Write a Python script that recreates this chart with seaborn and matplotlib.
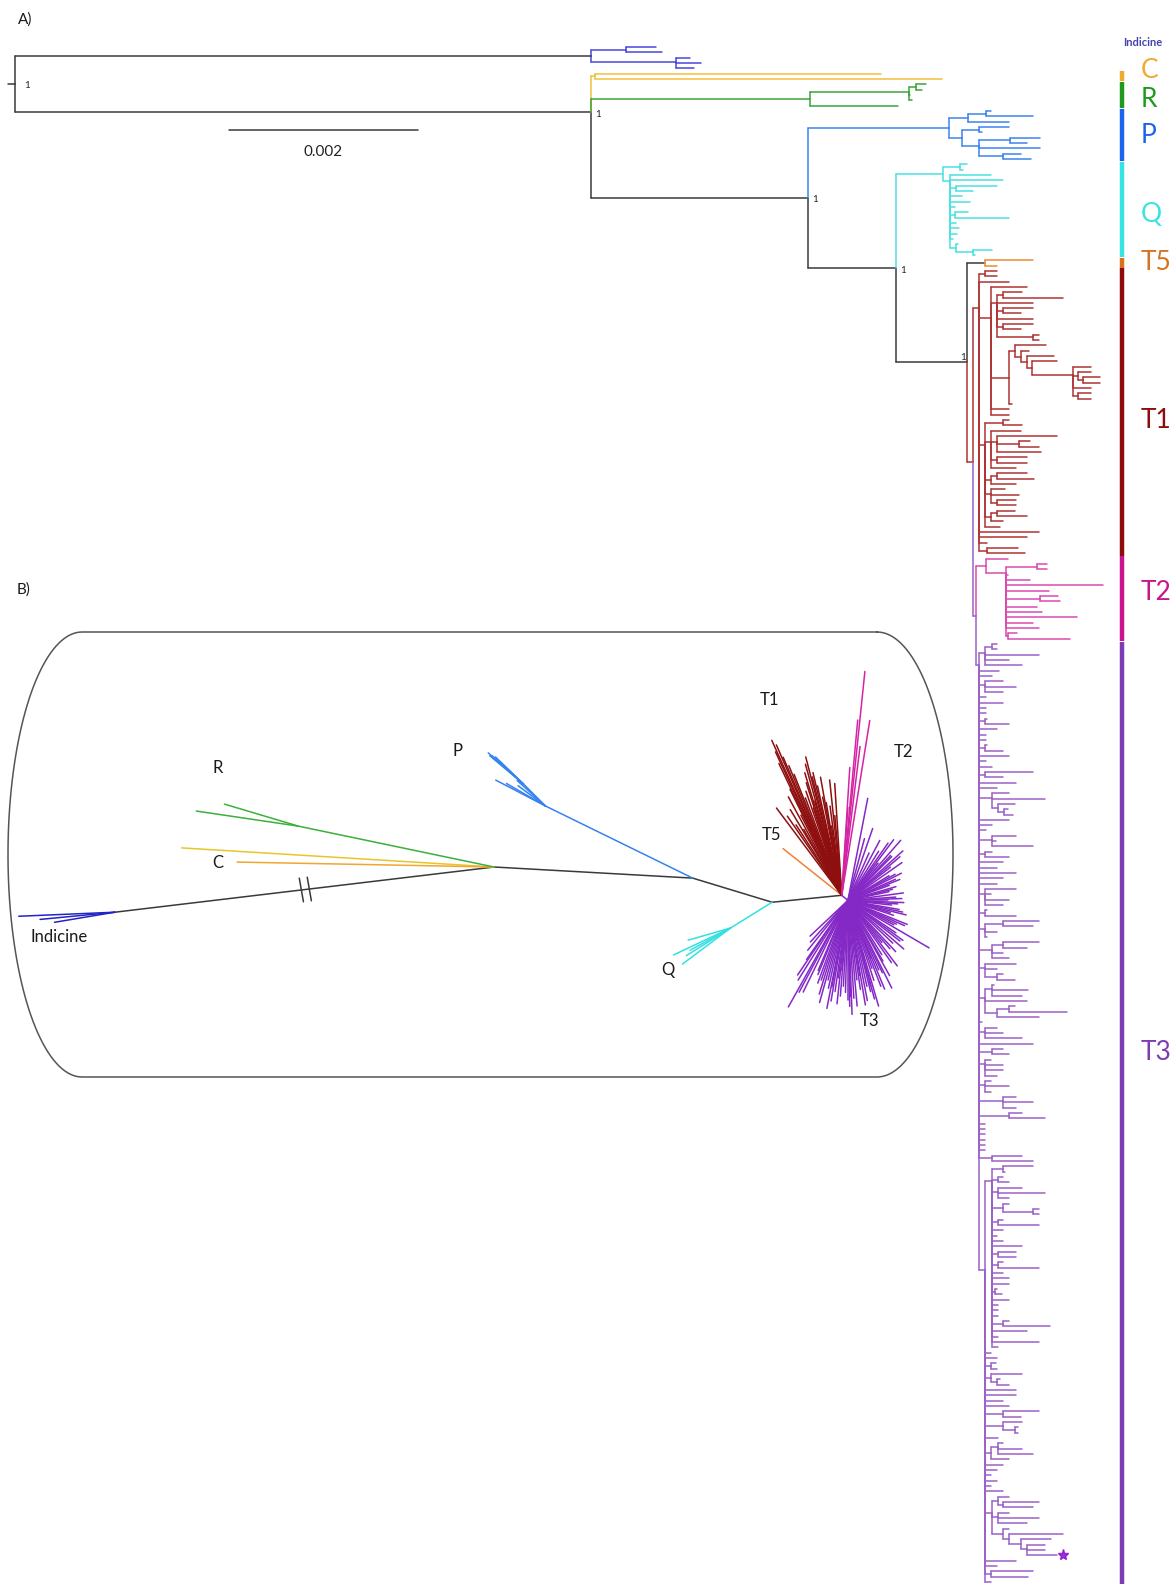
import numpy as np
import pandas as pd
import matplotlib
matplotlib.use("Agg")
import matplotlib.pyplot as plt
import seaborn as sns

# ====================== DATA : panel A (rectangular phylogram) ======================
# branch lengths in tree units (189 units = 0.002 substitutions / site)
SCALE_VALUE = "0.002"
SCALE_UNITS = 189

# node = [branch_length, child, child, ...]; leaf = branch length; ('*', bl) = marked leaf
IND = [576, [35, 30, 36], [85, 14, 25, 18]]
C = [4, 286, 347]
R = [219, [99, [7, 10, 6], 1, 3], 88]
P = [141, [19, [18, 5, 47], 41],
     [13, [17, 30, 3], [17, [31, 30, 17], 61, [24, 18, 28]]]]
Q = [47, [17, 7, 3],
     [7, 41, 53, [6, 41, 17], 12, 20, 5, [5, 13, 54], 6, 9, 7, 3, [6, 2, [17, 19, 2]]]]
T5 = [18, 48, 12]
T1 = [6, [6, 12, 12], 30,
      [12, 36,
       [6, [6, 19, 60], 36, [6, 30, 18], 36, [6, 30, 18], [36, 6, 6]],
       [18, [6, 31, [6, 8, [6, 27, [5, 25, [41, 18, [5, 13, [5, 17, 17]], 18, [5, 13, 13]]]]]], 3],
       18, 18],
      [6, [18, 6, 19], [6, 30, [6, 60, [22, 11, 20], 44], [6, 30, 30], 25],
       [6, [6, 30, 37], 25], [6, 14, 28, [6, 19, 19]], [6, [6, 18, 30], 12], 15],
      60, 48, 8, [8, 31, 38]]
T2 = [10, 22, [20, [31, 10, 10], 2, 24, 97, 43, [34, 18, 20], 31, 36, 71, 27, 33, [2, 9, 62]]]
T3 = [3,
      [6, [7, 5, 5], 54, 24, 37], 20, 13, [6, 18, 31, 18], 7, 24, 7, 7, [6, 2, 24],
      18, 7, 7, [6, 2, 18], 30, 7, 13, [6, 48, 18], 37, 18,
      [13, 17, 53, [6, 17, [6, 4, 9]]], 30, 13, 7, [13, 24, 4, 41], [6, 7, 24], 24, 18,
      37, 24, 18, [6, 31, 6, 24, 18], [6, 2, 31], [6, [18, 36, 30], 12, 2],
      [13, [11, 36, 24], 11, 17], [6, 31, 12, [12, 6, 18]],
      [6, [7, 2, 36, 30], 42, [12, [12, 6, 58], 42]], 3, [6, 12, 18, 37], 54,
      [13, 11, 17], [6, 6, 18, 18, 12], [6, 6, 24, 6], [24, 13, 30, 13], [30, 13, 36],
      6, 6, 6, 6, 6, 6, [13, 30, 41],
      [6,
       [7, [11, 30, 2], [6, 5, 11], [6, 24, 47, 11], [11, 6, [30, 6, 6]], [6, 5, 41],
        11, 5, 11, 30, [6, 18, 18], [6, 5, 41], 11, 17, 17, [3, 2, 7], 17, 6, 6, 6,
        [11, 6, 47], 35, 6, 47, 6],
       6, 12, [6, 5, 6], [6, 31, [6, 3, 12]],
       31, 31, 18, 24, [18, 36, 18], [18, 19, [12, 3, 3]], 13,
       [6, [7, 5, 24, 35], 18], 18, 12, 6, 12, 6, 18,
       [7, [6, 11, [5, 36, 30]], [6, 11, 41, 29],
        [11, 6, [6, 54, [12, 30, [6, 18, 18, ('*', 30)]]]]],
       31, 12, [6, 42, 37], 6]]

CLADES = {"IND": IND, "C": C, "R": R, "P": P, "Q": Q, "T5": T5, "T1": T1, "T2": T2, "T3": T3}
# backbone: head = (branch length, support, label side, colour key)
BACKBONE = [(7, "1", "r", None), "IND",
            [(576, "1", "r", None), "C", "R",
             [(217, "1", "r", None), "P",
              [(88, "1", "r", None), "Q",
               [(71, "1", "l", None), "T5",
                [(6, "", "", "T1"), "T1", [(3, "", "", "T3"), "T2", "T3"]]]]]]]
BAR_CLADES = ["C", "R", "P", "Q", "T5", "T1", "T2", "T3"]

# ====================== DATA : panel B (unrooted tree, angle deg / length) ======================
B_IND_STEM = (186.8, 382)
B_IND_ANG = [182.4, 189.5, 185.5]
B_IND_LEN = [96, 61, 75]
B_C_ANG = [176.5, 178.9]
B_C_LEN = [313, 257]
B_R_STEM = (168.2, 200)
B_R_ANG = [171.6, 163.4]
B_R_LEN = [103, 77]
B_N2 = (-3.2, 199)
B_P_STEM = (153.9, 164)
B_P_SUB = (135.0, 31)
B_P_SUB_ANG = [138.5, 137.9, 136.0, 136.5, 140.0]
B_P_SUB_LEN = [47, 42, 39, 33, 44]
B_P_ANG = [152.5, 138.0, 143.5, 150.0]
B_P_LEN = [56, 38, 34, 45]
B_N3 = (-16.9, 83)
B_Q_STEM = (211.8, 49)
B_Q_ANG = [205.3, 216.9, 196.0, 208.8, 212.0]
B_Q_LEN = [63, 60, 44, 46, 52]
B_N4 = (5.7, 70)
B_T5 = (141.5, 75)
B_T1_ANG = [114.3, 113.5, 114.8, 113.0, 112.2, 116.0, 118.5, 121.0, 126.8, 124.5, 123.0,
            104.6, 105.5, 106.8, 104.0, 107.5, 109.0, 110.5, 102.5, 101.0, 99.5, 97.5,
            96.0, 93.6, 95.0, 98.5, 108.0, 111.5, 117.0, 120.0, 115.5, 103.2, 100.2, 106.0]
B_T1_LEN = [170, 164, 158, 150, 140, 118, 112, 100, 109, 96, 84,
            143, 136, 128, 122, 118, 110, 104, 112, 100, 94, 90,
            116, 112, 80, 70, 92, 130, 90, 76, 146, 126, 120, 98]
B_T2_ANG = [84.1, 80.9, 84.8, 86.4, 86.0, 83.0]
B_T2_LEN = [225, 177, 176, 128, 88, 150]
B_T3_HUB = (-40, 8)
B_T3_ANG = [79, 75, 71, 66, 62, 58, 55, 51, 48.7, 45, 42, 38, 35, 31, 27, 24, 20, 16, 12, 7.7,
            4, 0, -2.2, -6, -10, -14, -18, -22, -26, -30.3, -34, -38, -43.6, -47, -51, -55,
            -58, -61, -63.4, -66, -69, -72, -73.8, -76, -79, -82, -85, -87.9, -90, -93, -96,
            -98, -101, -104, -107, -110, -113, -116, -119.2, -122, -125, -128.9, -132, -136.7,
            -64.5, -67.5, -70.5, -74.9, -77.5, -80.5, -83.5, -86.5, -89, -91.5, -94.5, -97,
            -99.5, -102.5, -105.5, -108.5, 53, 46.5, 40, 29, 22, 14, 2, -4, -12, -16, -24,
            -28, -36, -41, -49, -53, -60, -68, -75, -81, -88.5, -95, -100.5, -112, -118, -124]
B_T3_LEN = [104, 64, 76, 52, 68, 58, 70, 48, 80, 62, 74, 54, 66, 48, 60, 52, 44, 50, 42, 56,
            48, 40, 56, 44, 52, 60, 48, 64, 54, 94, 58, 66, 62, 70, 54, 76,
            64, 86, 98, 76, 92, 84, 110, 94, 102, 90, 106, 114, 100, 86, 104,
            92, 110, 82, 98, 88, 76, 102, 122, 94, 72, 64, 56, 52,
            80, 96, 72, 102, 88, 106, 80, 98, 106, 92, 96, 78,
            102, 90, 106, 84, 76, 62, 68, 54, 56, 46, 54, 50, 56, 44, 62,
            52, 68, 74, 64, 82, 70, 62, 88, 76, 96, 70, 88, 80, 104, 90]
B_BREAK_AT = [186, 194]

# ====================== STYLE ======================
TREE_COL = {"IND": "#4848de", "C": "#f2be3c", "R": "#3aa53a", "P": "#3d84ee", "Q": "#4ae2e2",
            "T5": "#ec8a35", "T1": "#b03434", "T2": "#db4bad", "T3": "#9b62c9"}
BAR_COL = {"C": "#f0aa2e", "R": "#1f9a1f", "P": "#1b63ea", "Q": "#38e3e3", "T5": "#d8721e",
           "T1": "#8e0b0b", "T2": "#c8148f", "T3": "#7d3cb4"}
LABEL_DY = {"C": -6, "R": 5, "P": 1, "Q": 5, "T5": 0, "T1": 8, "T2": -6, "T3": -60}
B_COL = {"IND": "#2424c4", "C1": "#e8c62a", "C2": "#f0a632", "R": "#3cb03c", "P": "#3583f0",
         "Q": "#33e0e0", "T5": "#f0803a", "T1": "#8e0f0f", "T2": "#d424a4", "T3": "#8529c6"}
BB = "#3a3a3a"
BLACK_STEM = {"IND", "T5"}

sns.set_theme(style="white")
plt.rcParams["font.family"] = ["Lato", "DejaVu Sans"]

W, H = 1176, 1588
fig = plt.figure(figsize=(W / 100, H / 100), dpi=100)
fig.patch.set_facecolor("white")

# ---------------- layout panel A ----------------
segs, rows, supports, stars = [], {}, [], []
counter = [0]


def head_info(node):
    h = node[0]
    if isinstance(h, tuple):
        return h
    return (h, None, None, None)


def node_color(ch, color):
    if isinstance(ch, str):
        return BB if ch in BLACK_STEM else TREE_COL[ch]
    if isinstance(ch, list):
        ck = head_info(ch)[3]
        if ck:
            return TREE_COL[ck]
    return color


def lay(node, xp, color, clade, stem=None):
    if isinstance(node, str):
        return lay(CLADES[node], xp, TREE_COL[node], node, BB if node in BLACK_STEM else None)
    if isinstance(node, tuple) and node[0] == "*":
        y = lay(node[1], xp, color, clade)
        stars.append((xp + node[1], y, color))
        return y
    if not isinstance(node, list):
        y = counter[0]
        counter[0] += 1
        rows.setdefault(clade, []).append(y)
        segs.append((xp, y, xp + node, y, color))
        return y
    bl, sup, side, ck = head_info(node)
    if ck:
        color = TREE_COL[ck]
    x = xp + bl
    kids = node[1:]
    ys = [lay(k, x, color, clade) for k in kids]
    yn = ys[-1]
    for yk in reversed(ys[:-1]):
        yn = (yk + yn) / 2
    for k, yk in zip(kids, ys):
        segs.append((x, yn, x, yk, node_color(k, color)))
    segs.append((xp, yn, x, yn, stem or color))
    if sup:
        supports.append((x, yn, sup, side))
    return yn


lay(BACKBONE, -7, BB, None)
NLEAF = counter[0]
sp = (1582 - 47) / (NLEAF - 1)          # pixels per leaf row

ax_a = fig.add_axes([0, 0, 1, 1])
ax_a.set_facecolor("none")
recs = []
for i, (x0, y0, x1, y1, c) in enumerate(segs):
    recs.append((i, x0, y0, c))
    recs.append((i, x1, y1, c))
dfa = pd.DataFrame(recs, columns=["seg", "x", "y", "color"])
sns.lineplot(data=dfa, x="x", y="y", units="seg", estimator=None, hue="color",
             palette={c: c for c in dfa["color"].unique()}, sort=False, legend=False,
             linewidth=1.1, ax=ax_a)
ax_a.set_xlim(-15, W - 15)
ax_a.set_ylim((H - 47) / sp, -47 / sp)
ax_a.axis("off")

for x, y, s, side in supports:
    if side == "l":
        ax_a.text(x - 1, y - 0.15, s, fontsize=7, ha="right", va="bottom", color="#222222")
    else:
        ax_a.text(x + (9 if x < 10 else 4), y + 0.35, s, fontsize=7, ha="left", va="center",
                  color="#222222")
for x, y, c in stars:
    ax_a.plot([x + 6], [y], marker="*", ms=8, color="#9b30e0", mec="#8a20d0")

# clade bars and labels
for cl in BAR_CLADES:
    r = rows[cl]
    ax_a.vlines(1107, min(r) - 0.45, max(r) + 0.45, color=BAR_COL[cl], lw=3.2)
    ax_a.text(1126, (min(r) + max(r)) / 2 + LABEL_DY[cl] / sp, cl, fontsize=19,
              color=BAR_COL[cl], ha="left", va="center")
ax_a.text(1128, min(rows["IND"]) - 0.8, "Indicine", fontsize=8, color="#4343b0",
          ha="center", va="center", fontweight="bold")

# scale bar
ysb = (130 - 47) / sp
ax_a.plot([214, 214 + SCALE_UNITS], [ysb, ysb], color=BB, lw=1.1)
ax_a.text(214 + SCALE_UNITS / 2, (152 - 47) / sp, SCALE_VALUE, fontsize=11, ha="center",
          va="center", color="#222222")

# ---------------- panel B ----------------
ax_b = fig.add_axes([0, 0, 1, 1])
ax_b.set_facecolor("none")


def pt(p, ang, L):
    a = np.deg2rad(ang)
    return (p[0] + L * np.cos(a), p[1] - L * np.sin(a))


edges = []


def edge(p0, p1, c):
    edges.append((p0, p1, c))


N1 = (494, 867)
hubI = pt(N1, *B_IND_STEM)
edge(N1, hubI, BB)
for a, L in zip(B_IND_ANG, B_IND_LEN):
    edge(hubI, pt(hubI, a, L), B_COL["IND"])
for (a, L), ck in zip(zip(B_C_ANG, B_C_LEN), ["C1", "C2"]):
    edge(N1, pt(N1, a, L), B_COL[ck])
Rn = pt(N1, *B_R_STEM)
edge(N1, Rn, B_COL["R"])
for a, L in zip(B_R_ANG, B_R_LEN):
    edge(Rn, pt(Rn, a, L), B_COL["R"])
N2 = pt(N1, *B_N2)
edge(N1, N2, BB)
Pn = pt(N2, *B_P_STEM)
edge(N2, Pn, B_COL["P"])
Ps = pt(Pn, *B_P_SUB)
edge(Pn, Ps, B_COL["P"])
for a, L in zip(B_P_SUB_ANG, B_P_SUB_LEN):
    edge(Ps, pt(Ps, a, L), B_COL["P"])
for a, L in zip(B_P_ANG, B_P_LEN):
    edge(Pn, pt(Pn, a, L), B_COL["P"])
N3 = pt(N2, *B_N3)
edge(N2, N3, BB)
Qn = pt(N3, *B_Q_STEM)
edge(N3, Qn, B_COL["Q"])
for a, L in zip(B_Q_ANG, B_Q_LEN):
    edge(Qn, pt(Qn, a, L), B_COL["Q"])
N4 = pt(N3, *B_N4)
edge(N3, N4, BB)
edge(N4, pt(N4, *B_T5), B_COL["T5"])
for a, L in zip(B_T1_ANG, B_T1_LEN):
    edge(N4, pt(N4, a, L), B_COL["T1"])
for a, L in zip(B_T2_ANG, B_T2_LEN):
    edge(N4, pt(N4, a, L), B_COL["T2"])
H3 = pt(N4, *B_T3_HUB)
edge(N4, H3, B_COL["T3"])
for a, L in zip(B_T3_ANG, B_T3_LEN):
    edge(H3, pt(H3, a, L), B_COL["T3"])
# break marks on the indicine branch
for d in B_BREAK_AT:
    c0 = pt(N1, B_IND_STEM[0], d)
    edge(pt(c0, 100, 12), pt(c0, 280, 12), BB)

recb = []
for i, (p0, p1, c) in enumerate(edges):
    recb.append((i, p0[0], p0[1], c))
    recb.append((i, p1[0], p1[1], c))
dfb = pd.DataFrame(recb, columns=["seg", "x", "y", "color"])
sns.lineplot(data=dfb, x="x", y="y", units="seg", estimator=None, hue="color",
             palette={c: c for c in dfb["color"].unique()}, sort=False, legend=False,
             linewidth=1.1, ax=ax_b)

# stadium frame
x0f, x1f, ycf, ryf, rx0, rx1 = 82, 877, 854.5, 222.5, 74, 76
t = np.linspace(np.pi / 2, -np.pi / 2, 80)
right = np.c_[x1f + rx1 * np.cos(t), ycf - ryf * np.sin(t)]
left = np.c_[x0f - rx0 * np.cos(t), ycf + ryf * np.sin(t)]
frame = np.vstack([right, left, right[:1]])
ax_b.plot(frame[:, 0], frame[:, 1], color="#555555", lw=1.1)

for txt, (lx, ly) in zip(["R", "C", "P", "Indicine", "Q", "T1", "T2", "T5", "T3"],
                         [(218, 768), (218, 863), (457, 751), (59, 937), (668, 970),
                          (769, 700), (903, 752), (771, 835), (869, 1021)]):
    ax_b.text(lx, ly, txt, fontsize=12, ha="center", va="center", color="#1a1a1a")

ax_b.set_xlim(0, W)
ax_b.set_ylim(H, 0)
ax_b.axis("off")

fig.text(25 / W, 1 - 20 / H, "A)", fontsize=11, ha="center", va="center", color="#1a1a1a")
fig.text(24 / W, 1 - 590 / H, "B)", fontsize=11, ha="center", va="center", color="#1a1a1a")

fig.savefig("out.png", dpi=100, facecolor="white")
